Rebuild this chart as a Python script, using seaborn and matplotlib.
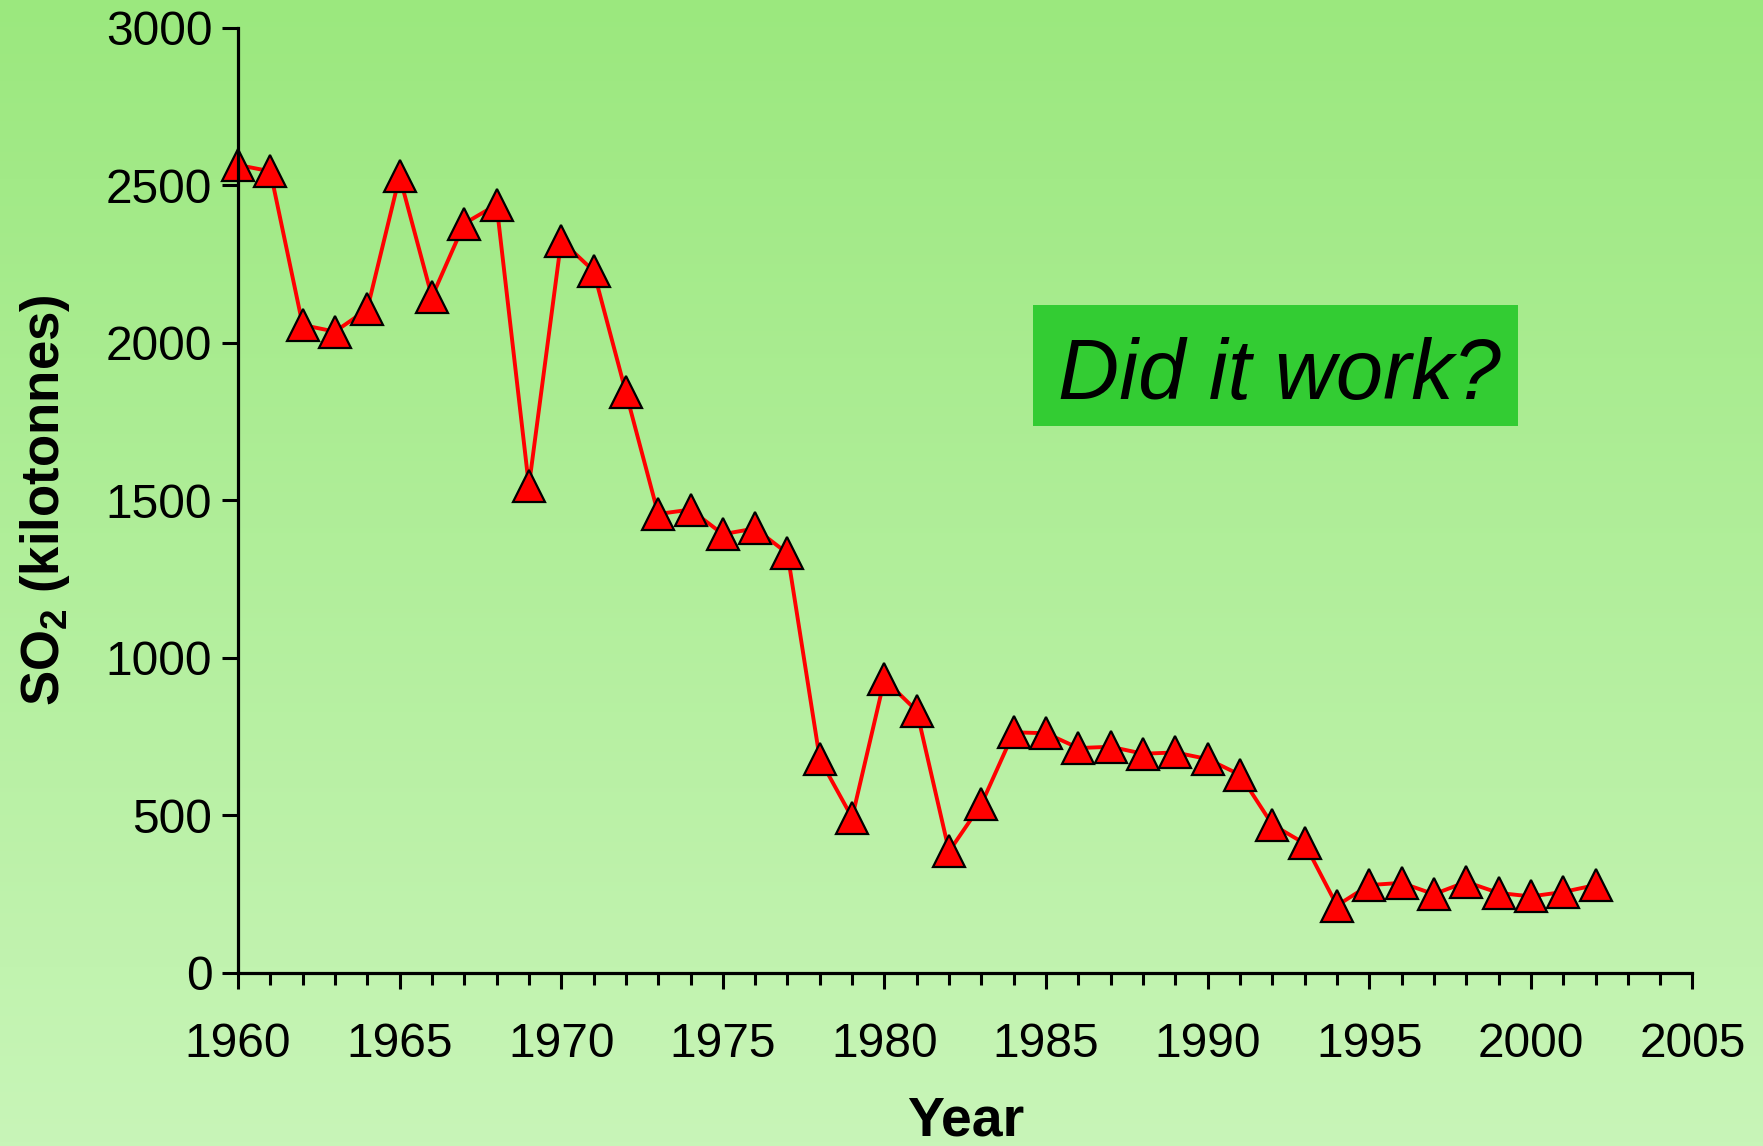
import numpy as np
import pandas as pd
import matplotlib
matplotlib.use("Agg")
import matplotlib.pyplot as plt
import matplotlib.patches as mpatches
import seaborn as sns
from matplotlib.colors import LinearSegmentedColormap
from matplotlib.ticker import MultipleLocator

# SO2 emissions by year (kilotonnes)
years = list(range(1960, 2003))
so2 = [2565, 2545, 2057, 2036, 2107, 2529, 2146, 2379, 2439, 1546,
       2325, 2229, 1843, 1457, 1471, 1393, 1411, 1332, 679, 493,
       932, 832, 386, 536, 764, 761, 714, 718, 696, 700,
       679, 629, 471, 411, 214, 279, 286, 250, 289, 254,
       243, 257, 279]

df = pd.DataFrame({"Year": years, "SO2": so2})

sns.set_theme(style="white")
plt.rcParams["font.family"] = ["Liberation Sans", "DejaVu Sans"]

fig = plt.figure(figsize=(17.63, 11.46), dpi=100)

# vertical gradient background
bg = fig.add_axes([0, 0, 1, 1], zorder=0)
grad = LinearSegmentedColormap.from_list("bg", ["#9BE87E", "#C8F5B8"])
bg.imshow(np.linspace(0, 1, 256).reshape(-1, 1), aspect="auto", cmap=grad,
          extent=[0, 1, 0, 1])
bg.set_axis_off()

ax = fig.add_axes([0.135, 0.151, 0.825, 0.8246], zorder=1)
ax.patch.set_alpha(0)

sns.lineplot(data=df, x="Year", y="SO2", ax=ax, color="#FF0000", linewidth=2.8,
             marker="^", markersize=23, markerfacecolor="#FF0000",
             markeredgecolor="black", markeredgewidth=1.6, clip_on=False)

ax.set_xlim(1960, 2005)
ax.set_ylim(0, 3000)
ax.xaxis.set_major_locator(MultipleLocator(5))
ax.xaxis.set_minor_locator(MultipleLocator(1))
ax.yaxis.set_major_locator(MultipleLocator(500))

for s in ["top", "right"]:
    ax.spines[s].set_visible(False)
for s in ["left", "bottom"]:
    ax.spines[s].set_color("black")
    ax.spines[s].set_linewidth(2.3)

ax.tick_params(axis="both", which="major", direction="out", length=11.5,
               width=2.2, color="black", labelsize=34.5, labelcolor="black")
ax.tick_params(axis="x", which="minor", direction="out", length=8.5,
               width=2.2, color="black", bottom=True)
ax.tick_params(axis="x", which="major", pad=24, bottom=True)
ax.tick_params(axis="y", which="major", pad=7, left=True)

ax.set_xlabel("Year", fontsize=40, fontweight="bold", labelpad=20,
              color="black")
ax.set_ylabel("SO$_\\mathregular{2}$ (kilotonnes)", fontsize=38,
              fontweight="bold", labelpad=24, color="black")
ax.grid(False)

# annotation box
box = mpatches.Rectangle((0.586, 0.628), 0.275, 0.1056, transform=fig.transFigure,
                         facecolor="#33CC33", edgecolor="none", zorder=2)
fig.patches.append(box)
fig.text(0.7258, 0.652, "Did it work?", fontsize=61, style="italic",
         ha="center", va="baseline", color="black", zorder=3)

fig.savefig("out.png", dpi=100)
